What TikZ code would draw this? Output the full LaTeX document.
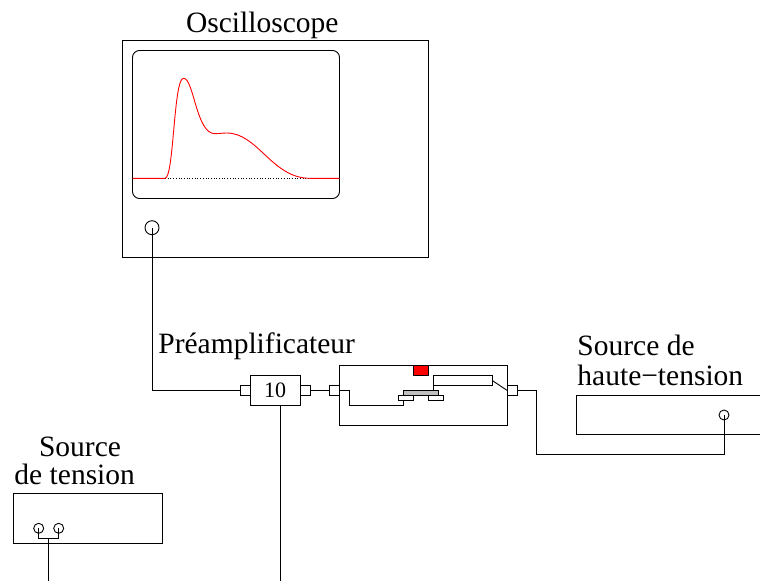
\documentclass[tikz,border=0pt]{standalone}
\usepackage{fontspec}
\setmainfont{Liberation Serif}
\begin{document}
\begin{tikzpicture}[x=1pt,y=-1pt,line width=0.9pt,
  box/.style={draw,rectangle,anchor=north west,inner sep=0pt,outer sep=0pt},
  port/.style={draw,circle,inner sep=0pt,outer sep=0pt},
  lab/.style={inner sep=0pt,anchor=base,font=\fontsize{29.5}{34}\selectfont},
  wire/.style={draw,line width=0.9pt},
  trace/.style={draw=red,line width=0.9pt}]
\useasboundingbox (0,0) rectangle (760,581);
\clip (0,0) rectangle (760,581);
% Oscilloscope
\node[box,minimum width=305.5pt,minimum height=217pt] (osc) at (122.5,40.5) {};
\node[box,rounded corners=7pt,minimum width=207pt,minimum height=148pt] (screen) at (132.5,50.5) {};
\node[port,minimum size=14pt] (oscport) at (152,227.7) {};
\node[lab] (osclab) at (262.3,32) {Oscilloscope};
% trace
\coordinate (b0) at (screen.west |- 0,178.3);
\coordinate (b1) at (165,178.3);
\coordinate (b2) at (310,178.3);
\coordinate (b3) at (screen.east |- 0,178.3);
\draw[dotted,line width=0.7pt] (b1) -- (b2);
\draw[trace] (b0) -- (b1)
  .. controls (174,178.3) and (173.5,78.3) .. (183.5,78.3)
  .. controls (194,78.3) and (196,133.7) .. (215,133.7)
  .. controls (219,133.7) and (222,133) .. (226.7,133)
  .. controls (258,133) and (272,178.3) .. (b2) -- (b3);
% Preamplifier
\node[lab] (prelab) at (256.7,353.3) {Préamplificateur};
\node[box,minimum width=49.7pt,minimum height=29.6pt,font=\fontsize{22}{26}\selectfont] (ten) at (250.3,375.7) {10};
\node[box,minimum width=10pt,minimum height=10pt] (tenL) at (240.3,385.3) {};
\node[box,minimum width=10pt,minimum height=10pt] (tenR) at (300,385.3) {};
\node[box,minimum width=167.5pt,minimum height=59.3pt] (det) at (339.5,365.7) {};
\node[box,minimum width=10pt,minimum height=10pt] (detL) at (329.5,385.3) {};
\node[box,minimum width=10pt,minimum height=10pt] (detR) at (507,385.3) {};
\node[box,fill=red,minimum width=15pt,minimum height=10pt] (redb) at (413.3,365.7) {};
\node[box,minimum width=59pt,minimum height=9.6pt] (longb) at (433.3,375.7) {};
\node[box,fill=black!25,minimum width=35pt,minimum height=5pt] (gray) at (403.3,390.3) {};
\node[box,minimum width=15pt,minimum height=5pt] (sL) at (398.3,395.3) {};
\node[box,minimum width=15pt,minimum height=5pt] (sR) at (428.3,395.3) {};
\coordinate (bend) at (349.3,405.3);
\coordinate (gnd) at (403.3,405.3);
\draw[wire] (oscport.center) |- (tenL.west);
\draw[wire] (tenR.east) -- (detL.west);
\draw[wire] (detL.east) -| (bend) -- (gnd) -- (gnd |- sL.south);
\draw[wire] (longb.south west) -- (longb.south west |- gray.north);
\draw[wire] (longb.east) -- (detR.west);
% High voltage source
\node[lab,anchor=base west] (hv1) at (577,355.7) {Source de};
\node[lab,anchor=base west] (hv2) at (577,385.5) {haute−tension};
\node[box,minimum width=200pt,minimum height=39pt] (hv) at (576,395.3) {};
\node[port,minimum size=10pt] (hvport) at (724,415) {};
\coordinate (hvA) at (536.3,454.3);
\draw[wire] (detR.east) -| (hvA) -| (hvport.center);
% Voltage source
\node[lab] (vs1) at (80,456) {Source};
\node[lab] (vs2) at (74.7,484.8) {de tension};
\node[box,minimum width=148.6pt,minimum height=49.3pt] (vs) at (13.7,493.7) {};
\node[port,minimum size=10pt] (vsA) at (38.7,528.3) {};
\node[port,minimum size=10pt] (vsB) at (58.7,528.3) {};
\coordinate (vsJ) at (48.7,538.3);
\coordinate (vsOut) at (48.7,581);
\draw[wire] (vsA.center) |- (vsJ) -| (vsB.center);
\draw[wire] (vsJ) -- (vsOut);
\coordinate (tenTop) at (280.3,405.3);
\coordinate (tenOut) at (tenTop |- vsOut);
\draw[wire] (tenTop) -- (tenOut);
\end{tikzpicture}
\end{document}
